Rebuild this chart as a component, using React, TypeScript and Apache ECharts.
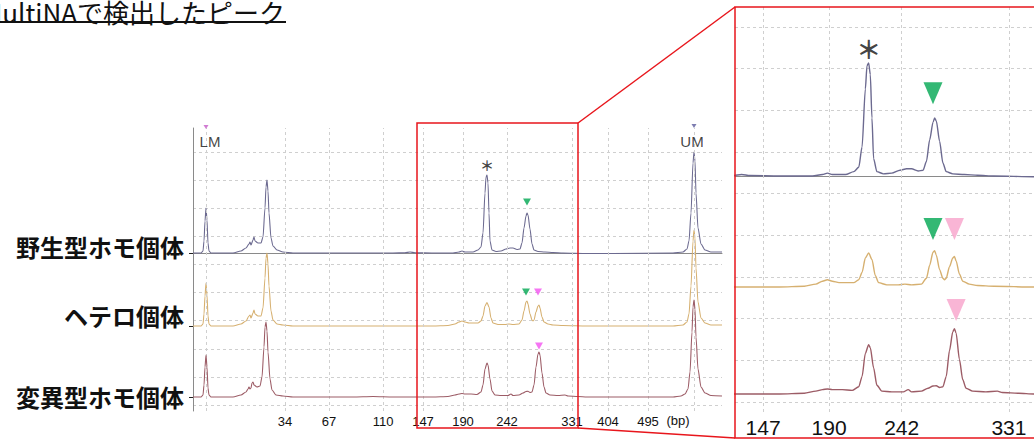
import React, { useEffect, useRef } from "react";
import * as echarts from "echarts";

// ---- data ----
const ladderBp = [34, 67, 110, 147, 190, 242, 331, 404, 495];
const ladderTime = [92, 136, 190, 230, 270, 314, 379, 415, 455];
const markerTimes = [13, 501]; // LM, UM
const markerNames = ["LM", "UM"];
const insetTicks = [230, 270, 314, 379];
const sampleNames = ["野生型ホモ個体", "ヘテロ個体", "変異型ホモ個体"];
const titleText = "MultiNAで検出したピーク";

const traceWild: number[][] = [
  [0, 0], [8, 0], [10, 2], [11, 12], [12, 32], [13, 45], [14, 33], [15, 10], [16, 2], [18, 0],
  [40, 0], [48, 2], [53, 5], [56, 9], [57, 11], [58, 8], [60, 13], [61, 16], [62, 12], [65, 10], [68, 10],
  [70, 16], [72, 45], [73, 66], [74, 73], [75, 62], [76, 40], [78, 15], [80, 7], [84, 3], [90, 1], [100, 0],
  [150, 0], [200, 0], [212, 0.3], [217, 1], [222, 0.3], [240, 0], [260, 0], [266, 1], [269, 2], [272, 1],
  [280, 1], [285, 3], [288, 6], [290, 20], [292, 60], [293, 76], [294, 78], [295, 70], [296, 40], [297, 12],
  [299, 3], [303, 1.5], [308, 2], [313, 4], [317, 5], [320, 5], [324, 3.5], [327, 4], [329, 10], [331, 25],
  [333, 37], [334, 40], [335, 38], [337, 24], [339, 9], [341, 3], [345, 1.5], [352, 1], [360, 0.5], [370, 0],
  [394, -0.5], [420, -0.5], [480, 0], [490, 1], [494, 4], [496, 12], [498, 40], [500, 90], [501, 101],
  [502, 92], [503, 60], [505, 25], [508, 9], [512, 3], [518, 1], [529, 1],
];
const traceHetero: number[][] = [
  [0, 0], [8, 0], [10, 2], [11, 12], [12, 30], [13, 43], [14, 31], [15, 10], [16, 2], [18, 0],
  [40, 0], [48, 2], [53, 5], [56, 10], [57, 11], [58, 8], [60, 13], [61, 16], [62, 12], [65, 10], [68, 10],
  [70, 18], [72, 48], [73, 68], [74, 73], [75, 62], [76, 40], [78, 15], [80, 6], [84, 2], [90, 1], [100, 0],
  [200, 0], [240, 0], [255, 0.5], [262, 2], [266, 4], [269, 5], [272, 4], [276, 3], [280, 3], [285, 3],
  [288, 5], [290, 10], [292, 20], [294, 23.5], [296, 19], [298, 8], [300, 3], [305, 1.5], [312, 1.5],
  [316, 2], [320, 1.5], [326, 2], [329, 6], [331, 15], [333, 24], [334, 25], [335, 22], [337, 12], [339, 6],
  [340, 5], [341, 6], [343, 14], [345, 20], [346, 21], [347, 18], [349, 9], [351, 4], [355, 2], [360, 1],
  [370, 0.5], [394, 0], [480, 0], [490, 1], [494, 4], [496, 12], [498, 40], [500, 85], [501, 96], [502, 88],
  [503, 58], [505, 24], [508, 8], [512, 3], [518, 1], [529, 1],
];
const traceMutant: number[][] = [
  [0, 0], [8, 0], [10, 2], [11, 12], [12, 30], [13, 42], [14, 30], [15, 9], [16, 2], [18, 0],
  [40, 0], [48, 2], [53, 5], [55, 8], [56, 10], [57, 8], [58, 9], [59, 14], [60, 15], [61, 12], [64, 10],
  [67, 11], [69, 20], [71, 50], [72, 70], [73, 75], [74, 66], [75, 45], [77, 18], [79, 7], [83, 2], [90, 1],
  [100, 0], [160, 0], [180, 0.5], [200, 0], [240, 0], [255, 0.5], [262, 2], [266, 3], [269, 3.5], [272, 3],
  [278, 3], [284, 2.5], [288, 5], [290, 12], [292, 28], [294, 34], [295, 32], [297, 18], [299, 6], [302, 2],
  [308, 1.5], [315, 1.5], [318, 3], [320, 1.5], [326, 2], [330, 4], [333, 5.5], [335, 5.7], [337, 4.5],
  [339, 5], [341, 12], [343, 30], [345, 43], [346, 45], [347, 42], [349, 24], [351, 10], [353, 4], [357, 2],
  [365, 1.5], [372, 2], [375, 1], [385, 0.5], [394, 0], [470, 0], [480, 0], [488, 1], [492, 3], [495, 8],
  [497, 25], [499, 65], [500, 90], [501, 97], [502, 88], [503, 60], [505, 28], [508, 10], [512, 4],
  [518, 1.5], [529, 1],
];
const traces = [traceWild, traceHetero, traceMutant];
const traceColors = ["#6c6a90", "#d6b070", "#9c5c66"];

// annotation points [time, value] on each trace's scale
const asteriskPoint = [294, 88];
const mainGreen = [[[334, 51]], [[333, 34]], []];
const mainPink = [[], [[345, 34]], [[346, 51]]];
const insetGreen = [[[333, 57]], [[333, 40]], []];
const insetPink = [[], [[346, 40]], [[347, 58]]];

// ---- layout ----
const MAIN = { left: 193, top: 128, width: 529, height: 283 };
const INSET = { left: 735, top: 7, width: 299, height: 405 };
const mainBase = [253, 326, 397];
const insetBase = [176, 287, 394];
const insetScale = 1.45;
const tMax = 529;
const insetMin = 213;
const insetMax = insetMin + INSET.width / 1.65;

const RED = "#e8161c";
const GRID_COLOR = "#cfcfcf";

export default function App() {
  const ref = useRef<HTMLDivElement>(null);
  useEffect(() => {
    if (!ref.current) return;
    const chart = echarts.init(ref.current, undefined, { renderer: "svg" });
    const mainBottom = MAIN.top + MAIN.height;
    const insetBottom = INSET.top + INSET.height;

    const yAxes: any[] = [];
    mainBase.forEach((b, i) => {
      yAxes.push({
        type: "value", gridIndex: 0, position: "left", offset: 0,
        min: -(mainBottom - b), max: b - MAIN.top,
        show: i === 0,
        axisLine: { show: true, lineStyle: { color: "#8a8a8a", width: 1 } },
        axisTick: { show: true, customValues: mainBase.map((bb) => mainBase[0] - bb), length: 4, lineStyle: { color: "#222" } },
        axisLabel: { show: false }, splitLine: { show: false },
      });
    });
    insetBase.forEach((b) => {
      yAxes.push({
        type: "value", gridIndex: 1, position: "left",
        min: -(insetBottom - b) / insetScale, max: (b - INSET.top) / insetScale,
        show: false,
      });
    });
    [2, 3].forEach((g) => {
      yAxes.push({
        type: "value", gridIndex: g, min: 0, max: 9, interval: 1, position: "left",
        axisLine: { show: false }, axisTick: { show: false }, axisLabel: { show: false },
        splitLine: { show: true, lineStyle: { color: GRID_COLOR, type: [3, 3], width: 1 } },
      });
    });

    const bpFormatter = (v: number) => {
      const i = ladderTime.indexOf(Math.round(v));
      return i >= 0 ? String(ladderBp[i]) : "";
    };

    const series: any[] = [];
    const vLine = (vals: number[]) => ({
      silent: true, symbol: ["none", "none"], label: { show: false },
      lineStyle: { color: GRID_COLOR, type: [3, 3], width: 1 },
      data: vals.map((v) => ({ xAxis: v })),
    });
    series.push({ type: "line", xAxisIndex: 0, yAxisIndex: 0, data: [], z: 1,
      markLine: vLine([...markerTimes, ...ladderTime]) });
    series.push({ type: "line", xAxisIndex: 1, yAxisIndex: 3, data: [], z: 1,
      markLine: vLine(insetTicks) });

    traces.forEach((tr, i) => {
      series.push({
        type: "line", name: sampleNames[i], xAxisIndex: 0, yAxisIndex: i, data: tr,
        showSymbol: false, smooth: 0.25, smoothMonotone: "x", z: 3 + i,
        lineStyle: { color: traceColors[i], width: 1.1 },
      });
      series.push({
        type: "line", name: sampleNames[i] + "-inset", xAxisIndex: 1, yAxisIndex: 3 + i, data: tr,
        showSymbol: false, smooth: 0.25, smoothMonotone: "x", z: 3 + i, clip: true,
        lineStyle: { color: traceColors[i], width: 1.4 },
      });
      series.push({
        type: "scatter", xAxisIndex: 0, yAxisIndex: i, data: mainGreen[i], symbol: "triangle",
        symbolRotate: 180, symbolSize: [8, 7], itemStyle: { color: "#00a651" }, z: 10, clip: false,
      });
      series.push({
        type: "scatter", xAxisIndex: 0, yAxisIndex: i, data: mainPink[i], symbol: "triangle",
        symbolRotate: 180, symbolSize: [8, 7], itemStyle: { color: "#f252f0" }, z: 10, clip: false,
      });
      series.push({
        type: "scatter", xAxisIndex: 1, yAxisIndex: 3 + i, data: insetGreen[i], symbol: "triangle",
        symbolRotate: 180, symbolSize: [19, 22], itemStyle: { color: "#00a651" }, z: 10, clip: false,
      });
      series.push({
        type: "scatter", xAxisIndex: 1, yAxisIndex: 3 + i, data: insetPink[i], symbol: "triangle",
        symbolRotate: 180, symbolSize: [19, 22], itemStyle: { color: "#f7a2cb" }, z: 10, clip: false,
      });
    });

    const labelPoint = (xi: number, yi: number, pt: number[], text: string, fontSize: number, font: string, weight: string, offset: number[] = [0, 0]) => ({
      type: "scatter", xAxisIndex: xi, yAxisIndex: yi, data: [pt], symbolSize: 1, clip: false, z: 11,
      itemStyle: { color: "rgba(0,0,0,0)" },
      label: {
        show: true, position: "inside", formatter: text, fontSize, fontFamily: font, fontWeight: weight,
        color: "#111111", textBorderWidth: 0, textBorderColor: "transparent", offset,
      },
    });
    series.push(labelPoint(0, 0, asteriskPoint, "＊", 14, "Noto Sans CJK JP", "bold"));
    series.push(labelPoint(1, 3, asteriskPoint, "＊", 25, "Noto Sans CJK JP", "bold"));
    series.push(labelPoint(0, 0, [markerTimes[0], 112], markerNames[0], 15, "Liberation Sans", "normal", [4, 0]));
    series.push(labelPoint(0, 0, [markerTimes[1], 112], markerNames[1], 15, "Liberation Sans", "normal", [-2, 0]));
    series.push({
      type: "scatter", xAxisIndex: 0, yAxisIndex: 0, data: [[markerTimes[0], 126]], symbol: "triangle",
      symbolRotate: 180, symbolSize: [5, 4], itemStyle: { color: "#c55ac8" }, clip: false, z: 10,
    });
    series.push({
      type: "scatter", xAxisIndex: 0, yAxisIndex: 0, data: [[markerTimes[1], 127]], symbol: "triangle",
      symbolRotate: 180, symbolSize: [5, 4], itemStyle: { color: "#5c5c9c" }, clip: false, z: 10,
    });

    const graphics: any[] = [
      { type: "text", x: 285, y: 11, style: { text: titleText, fontSize: 26, fontFamily: "Noto Sans CJK JP", fill: "#111", align: "right", verticalAlign: "middle" } },
      { type: "line", shape: { x1: 0, y1: 22, x2: 286, y2: 22 }, style: { stroke: "#111", lineWidth: 2 } },
      ...sampleNames.map((n, i) => ({
        type: "text", x: 184, y: [246, 315, 396][i],
        style: { text: n, fontSize: 24, fontWeight: "bold", fontFamily: "Noto Sans CJK JP", fill: "#111", align: "right", verticalAlign: "middle" },
      })),
      { type: "text", x: 678, y: 420, style: { text: "(bp)", fontSize: 13, fontFamily: "Liberation Sans", fill: "#111", align: "center", verticalAlign: "middle" } },
      { type: "rect", shape: { x: 417, y: 123, width: 161, height: 305 }, style: { fill: "none", stroke: RED, lineWidth: 1.5 }, z: 100 },
      { type: "line", shape: { x1: 578, y1: 123, x2: 735, y2: 7 }, style: { stroke: RED, lineWidth: 1.5 }, z: 100 },
      { type: "line", shape: { x1: 578, y1: 428, x2: 735, y2: 438 }, style: { stroke: RED, lineWidth: 1.5 }, z: 100 },
      { type: "rect", shape: { x: 735, y: 7, width: 320, height: 431 }, style: { fill: "none", stroke: RED, lineWidth: 1.5 }, z: 100 },
    ];

    chart.setOption({
      animation: false,
      backgroundColor: "#fff",
      grid: [
        { ...MAIN, containLabel: false },
        { ...INSET, containLabel: false },
        { left: MAIN.left, top: 152, width: MAIN.width, height: 253 },
        { left: INSET.left, top: 27, width: INSET.width, height: 375 },
      ],
      xAxis: [
        {
          type: "value", gridIndex: 0, min: 0, max: tMax,
          axisLine: { show: true, lineStyle: { color: "#8a8a8a" } },
          axisTick: { show: false }, splitLine: { show: false },
          axisLabel: { show: true, customValues: ladderTime, formatter: bpFormatter, fontSize: 13, fontFamily: "Liberation Sans", color: "#111", margin: 4 },
        },
        {
          type: "value", gridIndex: 1, min: insetMin, max: insetMax,
          axisLine: { show: true, lineStyle: { color: "#8a8a8a" } },
          axisTick: { show: false }, splitLine: { show: false },
          axisLabel: { show: true, customValues: insetTicks, formatter: bpFormatter, fontSize: 21, fontFamily: "Liberation Sans", color: "#111", margin: 5 },
        },
        { type: "value", gridIndex: 2, min: 0, max: 1, show: false },
        { type: "value", gridIndex: 3, min: 0, max: 1, show: false },
      ],
      yAxis: yAxes,
      series,
      graphic: graphics,
    });
    return () => chart.dispose();
  }, []);
  return <div ref={ref} style={{ position: "absolute", left: 0, top: 0, width: 1034, height: 439 }} />;
}
